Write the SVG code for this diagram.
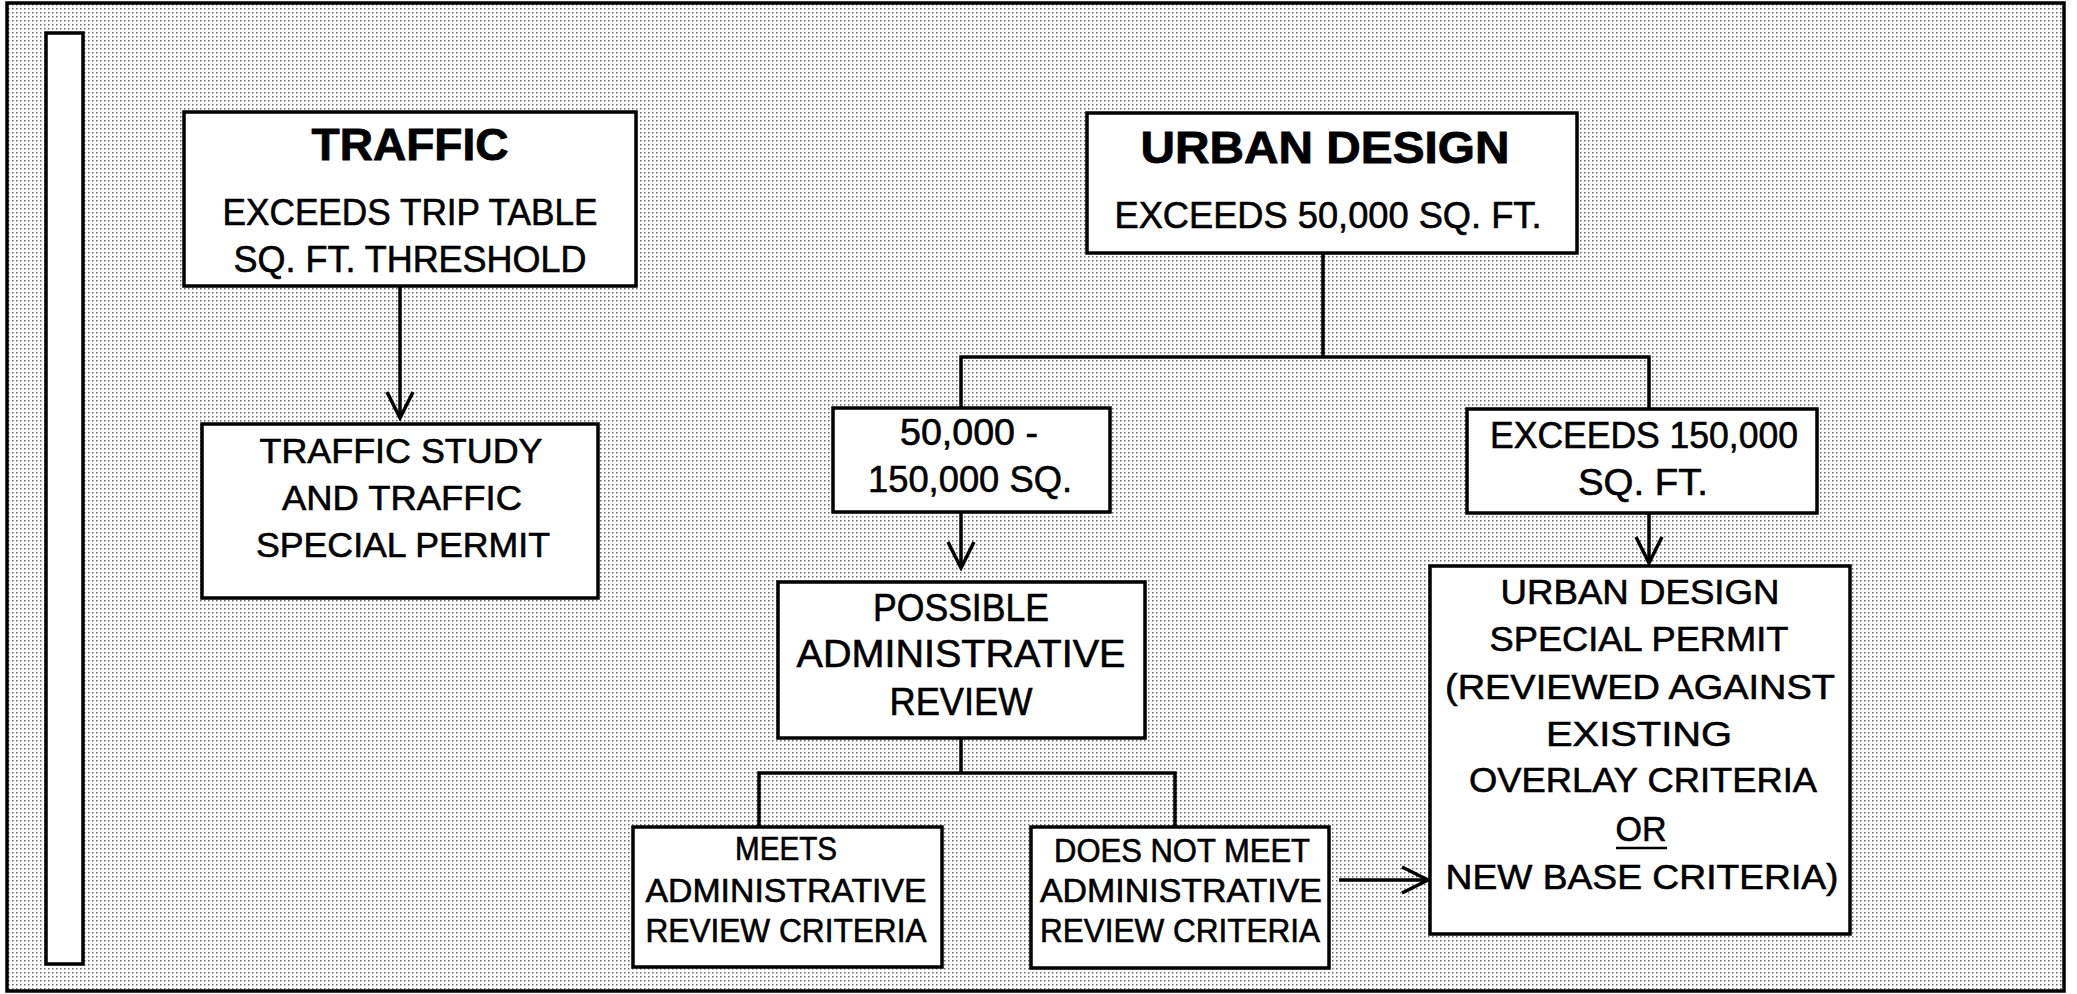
<svg xmlns="http://www.w3.org/2000/svg" width="2077" height="994" viewBox="0 0 2077 994">
  <style>
    .box { fill: #ffffff; stroke: #000000; stroke-width: 3.5; }
    .conn { fill: none; stroke: #000000; stroke-width: 3.5; }
    text { font-family: "Liberation Sans", Arial, sans-serif; fill: #000000; stroke: #000000; stroke-width: 0.6; text-anchor: middle; }
    .title { font-size: 44px; font-weight: bold; stroke-width: 0.8; }
    .t36 { font-size: 37px; }
    .t37 { font-size: 38px; }
    .t34 { font-size: 35px; }
    .t32 { font-size: 33px; }
  </style>
  <defs>
    <pattern id="dots" x="0" y="0" width="4" height="4" patternUnits="userSpaceOnUse">
      <rect x="0" y="0" width="1.5" height="1.5" fill="#6a6a6a"/>
    </pattern>
    <marker id="arrow" viewBox="0 0 32 32" refX="29" refY="16" markerWidth="32" markerHeight="32" markerUnits="userSpaceOnUse" orient="auto">
      <path d="M3,3 L29,16 L3,29" fill="none" stroke="#000000" stroke-width="3.5" stroke-linejoin="miter"/>
    </marker>
  </defs>

  <rect x="0" y="0" width="2077" height="994" fill="#ffffff"/>
  <g id="frame">
    <rect x="7" y="3" width="2057" height="988" fill="url(#dots)" stroke="#000000" stroke-width="3.5"/>
    <rect x="46" y="33" width="37" height="931" class="box"/>
  </g>

  <g id="connectors">
    <line x1="400" y1="286" x2="400" y2="418" class="conn" marker-end="url(#arrow)"/>
    <line x1="1323" y1="253" x2="1323" y2="357" class="conn"/>
    <polyline points="961,408 961,357 1649,357 1649,409" class="conn"/>
    <line x1="961" y1="512" x2="961" y2="568" class="conn" marker-end="url(#arrow)"/>
    <line x1="1649" y1="513" x2="1649" y2="563" class="conn" marker-end="url(#arrow)"/>
    <line x1="961" y1="738" x2="961" y2="773" class="conn"/>
    <polyline points="759,827 759,773 1175,773 1175,827" class="conn"/>
    <line x1="1339" y1="880" x2="1428" y2="880" class="conn" marker-end="url(#arrow)"/>
  </g>

  <g id="traffic">
    <rect x="184" y="112" width="452" height="174" class="box"/>
    <text x="410" y="160" class="title" textLength="197" lengthAdjust="spacingAndGlyphs">TRAFFIC</text>
    <text x="410" y="225" class="t36" textLength="375" lengthAdjust="spacingAndGlyphs">EXCEEDS TRIP TABLE</text>
    <text x="410" y="272" class="t36" textLength="353" lengthAdjust="spacingAndGlyphs">SQ. FT. THRESHOLD</text>
  </g>

  <g id="traffic-study">
    <rect x="202" y="424" width="396" height="174" class="box"/>
    <text x="401" y="463" class="t34" textLength="283" lengthAdjust="spacingAndGlyphs">TRAFFIC STUDY</text>
    <text x="402" y="510" class="t34" textLength="240" lengthAdjust="spacingAndGlyphs">AND TRAFFIC</text>
    <text x="403" y="557" class="t34" textLength="294" lengthAdjust="spacingAndGlyphs">SPECIAL PERMIT</text>
  </g>

  <g id="urban-design">
    <rect x="1087" y="113" width="490" height="140" class="box"/>
    <text x="1325" y="163" class="title" textLength="369" lengthAdjust="spacingAndGlyphs">URBAN DESIGN</text>
    <text x="1328" y="228" class="t36" textLength="427" lengthAdjust="spacingAndGlyphs">EXCEEDS 50,000 SQ. FT.</text>
  </g>

  <g id="range-50-150">
    <rect x="833" y="408" width="277" height="104" class="box"/>
    <text x="969" y="445" class="t36" textLength="138" lengthAdjust="spacingAndGlyphs">50,000 -</text>
    <text x="970" y="492" class="t36" textLength="204" lengthAdjust="spacingAndGlyphs">150,000 SQ.</text>
  </g>

  <g id="exceeds-150">
    <rect x="1467" y="409" width="350" height="104" class="box"/>
    <text x="1644" y="448" class="t36" textLength="308" lengthAdjust="spacingAndGlyphs">EXCEEDS 150,000</text>
    <text x="1643" y="495" class="t36" textLength="130" lengthAdjust="spacingAndGlyphs">SQ. FT.</text>
  </g>

  <g id="possible-review">
    <rect x="778" y="582" width="367" height="156" class="box"/>
    <text x="961" y="621" class="t37" textLength="176" lengthAdjust="spacingAndGlyphs">POSSIBLE</text>
    <text x="961" y="667" class="t37" textLength="329" lengthAdjust="spacingAndGlyphs">ADMINISTRATIVE</text>
    <text x="961" y="715" class="t37" textLength="143" lengthAdjust="spacingAndGlyphs">REVIEW</text>
  </g>

  <g id="meets">
    <rect x="633" y="827" width="309" height="140" class="box"/>
    <text x="786" y="860" class="t32" textLength="102" lengthAdjust="spacingAndGlyphs">MEETS</text>
    <text x="786" y="902" class="t32" textLength="281" lengthAdjust="spacingAndGlyphs">ADMINISTRATIVE</text>
    <text x="786" y="942" class="t32" textLength="281" lengthAdjust="spacingAndGlyphs">REVIEW CRITERIA</text>
  </g>

  <g id="does-not-meet">
    <rect x="1031" y="827" width="298" height="141" class="box"/>
    <text x="1182" y="862" class="t32" textLength="256" lengthAdjust="spacingAndGlyphs">DOES NOT MEET</text>
    <text x="1181" y="902" class="t32" textLength="282" lengthAdjust="spacingAndGlyphs">ADMINISTRATIVE</text>
    <text x="1180" y="942" class="t32" textLength="280" lengthAdjust="spacingAndGlyphs">REVIEW CRITERIA</text>
  </g>

  <g id="urban-design-permit">
    <rect x="1430" y="566" width="420" height="368" class="box"/>
    <text x="1640" y="604" class="t34" textLength="279" lengthAdjust="spacingAndGlyphs">URBAN DESIGN</text>
    <text x="1639" y="651" class="t34" textLength="299" lengthAdjust="spacingAndGlyphs">SPECIAL PERMIT</text>
    <text x="1640" y="699" class="t34" textLength="390" lengthAdjust="spacingAndGlyphs">(REVIEWED AGAINST</text>
    <text x="1639" y="746" class="t34" textLength="186" lengthAdjust="spacingAndGlyphs">EXISTING</text>
    <text x="1643" y="792" class="t34" textLength="348" lengthAdjust="spacingAndGlyphs">OVERLAY CRITERIA</text>
    <text x="1641" y="841" class="t34" textLength="51" lengthAdjust="spacingAndGlyphs">OR</text>
    <line x1="1616" y1="848" x2="1667" y2="848" stroke="#000000" stroke-width="2.5"/>
    <text x="1642" y="889" class="t34" textLength="393" lengthAdjust="spacingAndGlyphs">NEW BASE CRITERIA)</text>
  </g>
</svg>
